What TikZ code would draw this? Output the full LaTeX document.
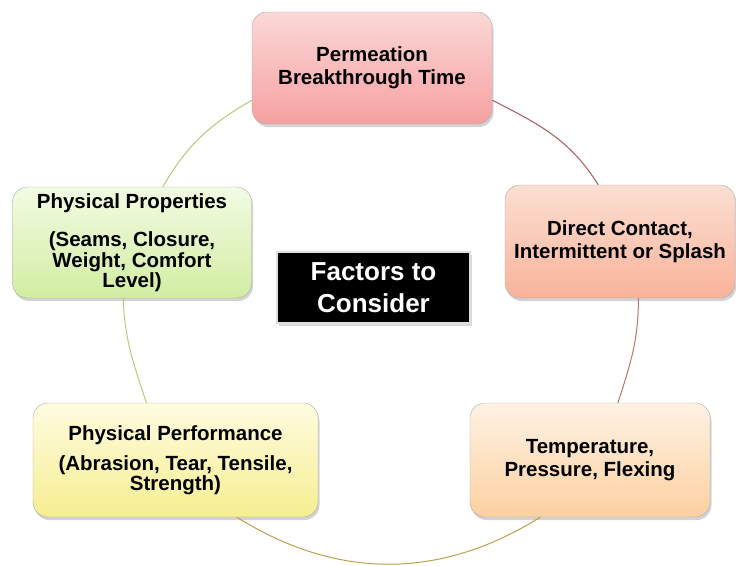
\documentclass[tikz,border=0pt]{standalone}
\usepackage{fontspec}
\setmainfont{Liberation Sans}
\usetikzlibrary{shadows}

\definecolor{arcred}{HTML}{A8585C}
\definecolor{arcbrown}{HTML}{B87860}
\definecolor{arcgold}{HTML}{C0A050}
\definecolor{arcolive}{HTML}{C4C480}
\definecolor{arcgreen}{HTML}{B8C878}
\definecolor{pinktop}{HTML}{FBD8D8}
\definecolor{pinkbot}{HTML}{F6A0A0}
\definecolor{salmontop}{HTML}{FCDFD3}
\definecolor{salmonbot}{HTML}{F9B29A}
\definecolor{orangetop}{HTML}{FFF2E4}
\definecolor{orangebot}{HTML}{FCD0A0}
\definecolor{yellowtop}{HTML}{FFFCE0}
\definecolor{yellowbot}{HTML}{F6EE92}
\definecolor{greentop}{HTML}{F2FBE4}
\definecolor{greenbot}{HTML}{D2EDA2}

\tikzset{
  factorbox/.style 2 args={draw=gray!65, top color=#1, bottom color=#2,
    rounded corners=15pt, align=center, inner sep=4pt,
    font=\bfseries\fontsize{20.5}{23}\selectfont,
    drop shadow={shadow xshift=1.5pt, shadow yshift=-3pt, opacity=0.35}},
  arcline/.style={line width=1pt}
}

\begin{document}
\begin{tikzpicture}[x=1pt, y=-1pt]

% Fix the page size
\useasboundingbox (0,0) rectangle (736,565);

% Draw the factor boxes
\node[factorbox={pinktop}{pinkbot}, minimum width=240pt, minimum height=112pt] (permeation) at (372,68) {Permeation\\Breakthrough Time};
\node[factorbox={salmontop}{salmonbot}, minimum width=230pt, minimum height=113pt] (contact) at (620,241.5) {Direct Contact,\\Intermittent or Splash};
\node[factorbox={orangetop}{orangebot}, minimum width=240pt, minimum height=114pt] (temperature) at (590,460) {Temperature,\\Pressure, Flexing};
\node[factorbox={yellowtop}{yellowbot}, minimum width=285pt, minimum height=114pt, font=\bfseries\fontsize{20.5}{19}\selectfont] (performance) at (175.5,460) {Physical Performance\\[10pt](Abrasion, Tear, Tensile,\\Strength)};
\node[factorbox={greentop}{greenbot}, minimum width=239pt, minimum height=111pt, font=\bfseries\fontsize{20.5}{18.5}\selectfont] (properties) at (132,242.5) {Physical Properties\\[18.5pt](Seams, Closure,\\Weight, Comfort\\Level)};

% Draw the title box
\node[fill=black, draw=gray!25, line width=2.5pt, minimum width=193pt, minimum height=71pt,
  text=white, align=center, font=\bfseries\fontsize{26}{32}\selectfont,
  drop shadow={shadow xshift=2pt, shadow yshift=-3pt, opacity=0.3}] (factors) at (373.5,287.5) {Factors to\\Consider};

% Draw the cycle
\draw[arcline, arcred] (permeation.-15) to[out=-27, in=122] (contact.111);
\draw[arcline, arcbrown] (contact.-72) to[out=-90, in=72] (temperature.64);
\draw[arcline, arcgold] (temperature.229) to[out=212, in=-32] (performance.-43);
\draw[arcline, arcolive] (performance.117) to[out=108, in=-88] (properties.-99);
\draw[arcline, arcgreen] (properties.61) to[out=60, in=210] (permeation.195);

\end{tikzpicture}
\end{document}
